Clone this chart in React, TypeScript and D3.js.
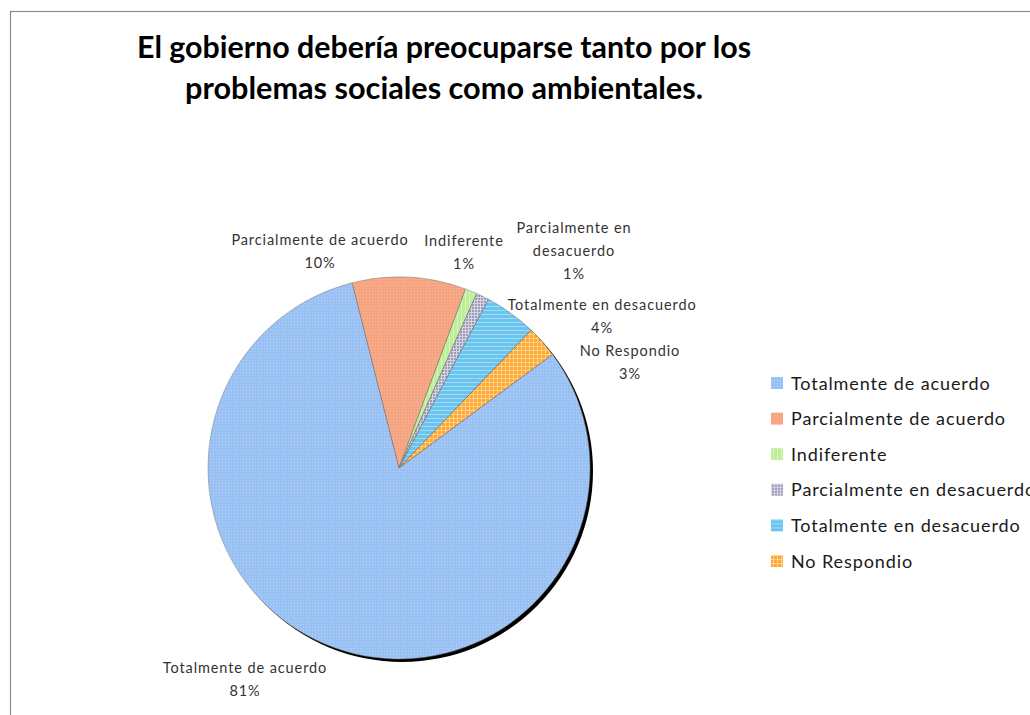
import React from 'react';
import * as d3 from 'd3';

const categories = [
  'Totalmente de acuerdo',
  'Parcialmente de acuerdo',
  'Indiferente',
  'Parcialmente en desacuerdo',
  'Totalmente en desacuerdo',
  'No Respondio',
];
const values = [81.2, 9.6, 1.0, 1.1, 4.4, 2.7];
const percentLabels = ['81%', '10%', '1%', '1%', '4%', '3%'];
const labelLines = [
  ['Totalmente de acuerdo'],
  ['Parcialmente de acuerdo'],
  ['Indiferente'],
  ['Parcialmente en', 'desacuerdo'],
  ['Totalmente en desacuerdo'],
  ['No Respondio'],
];
const titleLines = ['El gobierno debería preocuparse tanto por los', 'problemas sociales como ambientales.'];

// layout (not data)
const W = 1030;
const H = 715;
const CX = 399;
const CY = 468;
const R = 191;
const START_DEG = 53.5;
const labelAnchors: [number, number][] = [
  [245, 668],
  [320, 240],
  [464, 241],
  [574, 228],
  [602, 305],
  [630, 351],
];
const patternIds = ['pTA', 'pPA', 'pIN', 'pPD', 'pTD', 'pNR'];

const Patterns = () => (
  <defs>
    <pattern id="pTA" width="3" height="3" patternUnits="userSpaceOnUse">
      <rect width="3" height="3" fill="#9CC3F3" />
      <rect x="0" y="0" width="1" height="1" fill="#AECFF6" />
      <rect x="1.5" y="1.5" width="1" height="1" fill="#90BAF0" />
    </pattern>
    <pattern id="pPA" width="3" height="3" patternUnits="userSpaceOnUse">
      <rect width="3" height="3" fill="#F7A684" />
      <rect x="0" y="0" width="1" height="1" fill="#F9B698" />
      <rect x="1.5" y="1.5" width="1" height="1" fill="#F39C78" />
    </pattern>
    <pattern id="pIN" width="4" height="4" patternUnits="userSpaceOnUse">
      <rect width="4" height="4" fill="#BEEE98" />
      <rect x="2" y="0" width="1" height="4" fill="#D6F6BC" />
    </pattern>
    <pattern id="pPD" width="3" height="3" patternUnits="userSpaceOnUse">
      <rect width="3" height="3" fill="#9C9CB8" />
      <rect x="0" y="0" width="3" height="1" fill="#D4D4E2" />
      <rect x="0" y="0" width="1" height="3" fill="#D4D4E2" />
    </pattern>
    <pattern id="pTD" width="4" height="4" patternUnits="userSpaceOnUse">
      <rect width="4" height="4" fill="#68C6EE" />
      <rect x="0" y="2" width="4" height="1" fill="#A8D8F6" />
    </pattern>
    <pattern id="pNR" width="4" height="4" patternUnits="userSpaceOnUse">
      <rect width="4" height="4" fill="#FFA733" />
      <rect x="0" y="2" width="4" height="1" fill="#FFD38C" />
      <rect x="2" y="0" width="1" height="4" fill="#FFD38C" />
    </pattern>
  </defs>
);

export default function App() {
  const start = (START_DEG * Math.PI) / 180;
  const pie = d3
    .pie<number>()
    .sort(null)
    .value((d) => d)
    .startAngle(start)
    .endAngle(start + 2 * Math.PI);
  const arcs = pie(values);
  const arcGen = d3.arc<d3.PieArcDatum<number>>().innerRadius(0).outerRadius(R);

  const labelFont = '"Lato", "Liberation Sans", sans-serif';
  const legendY = d3.scaleLinear().domain([0, categories.length - 1]).range([383, 561]);

  return (
    <svg
      width={W}
      height={H}
      style={{ position: 'absolute', left: 0, top: 0, background: '#fff' }}
      xmlns="http://www.w3.org/2000/svg"
    >
      <Patterns />
      <rect x={0} y={0} width={W} height={H} fill="#fff" />
      <rect x={10.5} y={11.5} width={W} height={H + 20} fill="none" stroke="#8c8c8c" strokeWidth={1.2} />

      {titleLines.map((t, i) => (
        <text
          key={i}
          x={444}
          y={58 + i * 41}
          textAnchor="middle"
          fontFamily={labelFont}
          fontWeight="bold"
          fontSize={30}
          fill="#000"
          textLength={i === 0 ? 614 : 518}
          lengthAdjust="spacingAndGlyphs"
        >
          {t}
        </text>
      ))}

      {/* shadow */}
      <circle cx={CX + 3} cy={CY + 3} r={R} fill="#000" />

      <g transform={`translate(${CX},${CY})`}>
        {arcs.map((a, i) => (
          <path
            key={i}
            d={arcGen(a) || ''}
            fill={`url(#${patternIds[i]})`}
            stroke="#7a7a7a"
            strokeWidth={0.5}
          />
        ))}
      </g>

      {arcs.map((a, i) => {
        const [lx, ly] = labelAnchors[i];
        const lines = [...labelLines[i], percentLabels[i]];
        return (
          <text
            key={i}
            textAnchor="middle"
            fontFamily={labelFont}
            fontSize={14.5}
            letterSpacing={0.9}
            fill="#333"
          >
            {lines.map((ln, j) => (
              <tspan key={j} x={lx} y={ly + 5 + j * 23}>
                {ln}
              </tspan>
            ))}
          </text>
        );
      })}

      {categories.map((c, i) => (
        <g key={c} transform={`translate(771,${legendY(i)})`}>
          <rect x={0} y={-6} width={12} height={12} fill={`url(#${patternIds[i]})`} />
          <text x={20} y={6.5} fontFamily={labelFont} fontSize={18} letterSpacing={0.9} fill="#1a1a1a">
            {c}
          </text>
        </g>
      ))}
    </svg>
  );
}
